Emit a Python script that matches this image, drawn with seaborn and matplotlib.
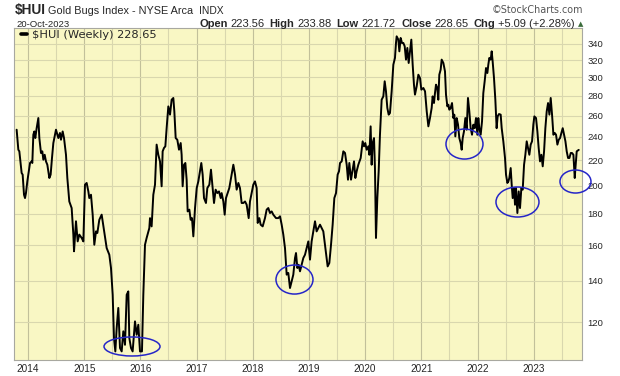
import pandas as pd
import seaborn as sns
import matplotlib.pyplot as plt
from matplotlib.patches import Ellipse
from matplotlib.ticker import FixedLocator, NullLocator, NullFormatter
from matplotlib.transforms import ScaledTranslation

# weekly closes, x in decimal years
dates_a = [2013.798, 2013.828, 2013.846, 2013.887, 2013.905, 2013.929, 2013.947, 2013.964, 2013.988, 2014.006,
           2014.036, 2014.065, 2014.077, 2014.095, 2014.113, 2014.130, 2014.154, 2014.184, 2014.202, 2014.231,
           2014.255, 2014.273, 2014.297, 2014.320, 2014.344, 2014.380, 2014.403, 2014.427, 2014.451, 2014.498,
           2014.540, 2014.569, 2014.587, 2014.617, 2014.641, 2014.676, 2014.700, 2014.735, 2014.777, 2014.807,
           2014.819, 2014.854, 2014.884, 2014.913, 2014.955, 2014.985, 2015.014, 2015.044, 2015.074, 2015.091,
           2015.121, 2015.151, 2015.180, 2015.210, 2015.234, 2015.269, 2015.311, 2015.329, 2015.358, 2015.400,
           2015.447, 2015.477, 2015.507, 2015.530, 2015.554, 2015.578, 2015.607, 2015.637, 2015.667, 2015.696,
           2015.726, 2015.756, 2015.785, 2015.803, 2015.833, 2015.862, 2015.904, 2015.934, 2015.963, 2015.993,
           2016.028, 2016.052, 2016.082, 2016.111, 2016.159]
close_a = [246.6, 228.8, 227.4, 209.7, 208.4, 193.3, 190.9, 194.5, 203.2, 208.4,
           217.7, 219.0, 217.7, 242.0, 245.0, 239.0, 248.0, 257.6, 239.0, 226.0,
           227.4, 220.4, 224.5, 219.0, 216.3, 205.8, 208.4, 221.8, 234.6, 246.6,
           239.0, 243.6, 237.5, 245.0, 239.0, 224.5, 205.8, 188.5, 183.9, 166.5,
           156.4, 175.0, 162.3, 166.5, 164.4, 162.3, 200.7, 202.0, 195.7, 190.9,
           193.3, 179.4, 160.3, 168.5, 167.5, 176.0, 179.4, 175.0, 168.5, 158.3,
           154.4, 146.9, 132.9, 113.0, 107.5, 117.3, 126.5, 108.9, 107.5, 115.9,
           110.2, 132.9, 134.6, 113.0, 108.9, 107.5, 120.3, 114.4, 118.8, 107.5,
           107.5, 132.9, 160.3, 164.4, 170.6]

dates_b = [2016.171, 2016.200, 2016.230, 2016.260, 2016.289, 2016.319, 2016.349, 2016.378, 2016.396, 2016.420,
           2016.444, 2016.467, 2016.497, 2016.527, 2016.556, 2016.586, 2016.604, 2016.628, 2016.657, 2016.687,
           2016.717, 2016.734, 2016.752, 2016.776, 2016.800, 2016.823, 2016.841, 2016.871, 2016.894, 2016.918,
           2016.942, 2016.972, 2017.002, 2017.031, 2017.061, 2017.084, 2017.108, 2017.132, 2017.167, 2017.191,
           2017.227, 2017.256, 2017.280, 2017.310, 2017.339, 2017.369, 2017.399, 2017.429, 2017.446, 2017.476,
           2017.500, 2017.523, 2017.553, 2017.582, 2017.624, 2017.654, 2017.684, 2017.713, 2017.743, 2017.772,
           2017.802, 2017.832, 2017.862, 2017.891, 2017.927, 2017.950, 2017.980, 2018.009, 2018.039, 2018.069,
           2018.087, 2018.116, 2018.140, 2018.176, 2018.217, 2018.247, 2018.276, 2018.306, 2018.336, 2018.365,
           2018.413, 2018.454, 2018.484, 2018.514, 2018.543, 2018.573, 2018.603, 2018.632]
close_b = [177.1, 171.7, 193.3, 200.7, 233.2, 224.5, 219.0, 199.5, 227.4, 230.3,
           231.7, 248.0, 269.1, 260.9, 275.9, 277.7, 264.1, 239.0, 237.5, 228.8,
           234.6, 224.5, 199.5, 216.3, 217.7, 204.5, 181.6, 182.8, 176.0, 177.1,
           165.4, 183.9, 198.2, 203.2, 211.0, 217.7, 208.4, 190.9, 187.4, 198.2,
           200.7, 212.3, 200.7, 187.4, 197.0, 194.5, 195.7, 190.9, 194.5, 188.5,
           179.4, 190.9, 194.5, 198.2, 208.4, 216.3, 208.4, 197.0, 202.0, 198.2,
           187.4, 187.4, 188.5, 186.2, 177.1, 188.5, 194.5, 200.7, 203.2, 198.2,
           173.9, 177.1, 172.8, 171.7, 177.1, 182.8, 183.9, 180.5, 181.6, 179.4,
           177.1, 177.1, 178.3, 172.8, 166.5, 158.3, 143.3, 144.2]

dates_c = [2018.662, 2018.692, 2018.721, 2018.751, 2018.769, 2018.793, 2018.816, 2018.840, 2018.870, 2018.899,
           2018.929, 2018.958, 2018.988, 2019.018, 2019.047, 2019.077, 2019.107, 2019.136, 2019.166, 2019.196,
           2019.225, 2019.255, 2019.285, 2019.315, 2019.332, 2019.362, 2019.392, 2019.421, 2019.451, 2019.481,
           2019.510, 2019.534, 2019.552, 2019.582, 2019.611, 2019.641, 2019.671, 2019.694, 2019.718, 2019.748,
           2019.777, 2019.801, 2019.825, 2019.848, 2019.878, 2019.920, 2019.955, 2019.979, 2020.002, 2020.026,
           2020.056, 2020.074, 2020.097, 2020.115, 2020.133, 2020.157, 2020.174, 2020.192, 2020.216, 2020.240,
           2020.263, 2020.293, 2020.323, 2020.347, 2020.370, 2020.394, 2020.418, 2020.441, 2020.471, 2020.501,
           2020.530, 2020.548, 2020.560, 2020.590, 2020.608, 2020.631, 2020.655, 2020.679, 2020.703, 2020.726,
           2020.750, 2020.774, 2020.797, 2020.821, 2020.845, 2020.868, 2020.886, 2020.916, 2020.946, 2020.975,
           2020.999, 2021.035, 2021.065, 2021.095, 2021.124]
close_c = [136.3, 139.7, 143.3, 152.5, 155.4, 146.9, 148.7, 145.1, 148.7, 152.5,
           154.4, 158.3, 162.3, 151.6, 162.3, 168.5, 175.0, 168.5, 170.6, 172.8,
           170.6, 168.5, 160.3, 152.5, 147.8, 149.7, 160.3, 172.8, 190.9, 194.5,
           208.4, 211.0, 217.7, 219.0, 227.4, 226.0, 216.3, 204.5, 217.7, 204.5,
           212.3, 219.0, 205.8, 211.0, 216.3, 221.8, 236.1, 231.7, 234.6, 228.8,
           231.7, 224.5, 249.7, 216.3, 234.6, 239.0, 213.6, 164.4, 190.9, 211.0,
           242.0, 275.9, 279.4, 295.6, 284.7, 267.5, 260.9, 262.5, 284.7, 314.6,
           322.6, 341.2, 349.8, 345.5, 330.7, 347.7, 341.2, 341.2, 337.0, 320.6,
           334.9, 316.6, 330.7, 345.5, 314.6, 291.9, 281.2, 290.1, 303.0, 299.3,
           286.5, 288.3, 284.7, 264.1, 249.7]

dates_d = [2021.153, 2021.183, 2021.200, 2021.224, 2021.242, 2021.260, 2021.283, 2021.301, 2021.319, 2021.343,
           2021.361, 2021.391, 2021.420, 2021.438, 2021.462, 2021.480, 2021.497, 2021.521, 2021.545, 2021.569,
           2021.586, 2021.604, 2021.628, 2021.652, 2021.675, 2021.699, 2021.717, 2021.735, 2021.758, 2021.782,
           2021.806, 2021.829, 2021.853, 2021.877, 2021.901, 2021.924, 2021.948, 2021.972, 2021.996, 2022.013,
           2022.031, 2022.055, 2022.079, 2022.102, 2022.126, 2022.150, 2022.174, 2022.191, 2022.209, 2022.233,
           2022.251, 2022.268, 2022.292, 2022.316, 2022.339, 2022.357, 2022.381, 2022.411, 2022.429, 2022.458,
           2022.488, 2022.506, 2022.530, 2022.548, 2022.565, 2022.589, 2022.607, 2022.625, 2022.649, 2022.666,
           2022.684, 2022.708, 2022.732, 2022.755, 2022.779, 2022.803, 2022.827, 2022.850, 2022.874, 2022.898,
           2022.921, 2022.945, 2022.969, 2022.992, 2023.010, 2023.040, 2023.064, 2023.087, 2023.111, 2023.135,
           2023.159, 2023.183, 2023.206, 2023.230, 2023.254, 2023.278, 2023.301, 2023.325, 2023.349, 2023.373,
           2023.396, 2023.420, 2023.444, 2023.468, 2023.491, 2023.515, 2023.539, 2023.563, 2023.586, 2023.610,
           2023.634, 2023.658, 2023.681, 2023.705, 2023.729, 2023.741, 2023.764, 2023.800]
close_d = [257.6, 267.5, 279.4, 272.5, 282.9, 291.9, 288.3, 275.9, 303.0, 308.8,
           320.6, 316.6, 306.8, 281.2, 269.1, 270.8, 265.8, 267.5, 272.5, 257.6,
           260.9, 240.5, 257.6, 251.3, 239.0, 234.6, 228.8, 239.0, 245.0, 257.6,
           246.6, 277.7, 264.1, 248.0, 242.0, 251.3, 248.0, 257.6, 242.0, 257.6,
           248.0, 242.0, 254.4, 282.9, 295.6, 310.7, 304.9, 314.6, 322.6, 320.6,
           330.7, 318.6, 299.3, 275.9, 248.0, 259.2, 261.5, 260.9, 248.0, 236.1,
           221.8, 208.4, 202.0, 203.2, 205.8, 213.6, 200.7, 190.9, 198.2, 186.2,
           198.2, 180.5, 195.7, 183.9, 198.2, 197.0, 216.3, 224.5, 236.1, 230.3,
           224.5, 233.2, 236.1, 251.3, 259.2, 257.6, 245.0, 230.3, 219.0, 224.5,
           215.0, 227.4, 248.0, 264.1, 272.5, 260.9, 277.7, 260.9, 242.0, 243.6,
           242.0, 233.2, 237.5, 239.0, 243.6, 248.0, 242.0, 236.1, 227.4, 221.8,
           221.8, 226.0, 226.0, 224.5, 205.8, 213.6, 227.4, 228.65]

year_ticks = [2014, 2015, 2016, 2017, 2018, 2019, 2020, 2021, 2022, 2023]
half_years = [2014.5, 2015.5, 2016.5, 2017.5, 2018.5, 2019.5, 2020.5, 2021.5, 2022.5, 2023.5]
price_ticks = [120, 140, 160, 180, 200, 220, 240, 260, 280, 300, 320, 340]

# the circled lows (centre date, centre value)
low_dates = [2015.851, 2018.742, 2021.767, 2022.710, 2023.742]
low_values = [109.5, 140.7, 233.7, 188.1, 203.1]
ring_px = [(56, 19), (37, 29), (37, 30), (43, 30), (31, 23)]

df = pd.DataFrame({
    "date": dates_a + dates_b + dates_c + dates_d,
    "close": close_a + close_b + close_c + close_d,
})

sns.set_style("white")
plt.rcParams["font.family"] = ["Liberation Sans", "DejaVu Sans"]

W, H = 620, 376
fig = plt.figure(figsize=(W / 100, H / 100), dpi=100)
ax = fig.add_axes([14 / W, 16 / H, 568 / W, 332 / H])
ax.set_facecolor("#f9f7c4")

sns.lineplot(data=df, x="date", y="close", color="black", linewidth=1.4, sort=False,
             label="\\$HUI (Weekly) 228.65", ax=ax)

ax.set_yscale("log")
ax.set_xlim(2013.751, 2023.858)
ax.set_ylim(104.1, 360.9)

ax.yaxis.set_major_locator(FixedLocator(price_ticks))
ax.yaxis.set_minor_locator(NullLocator())
ax.yaxis.set_minor_formatter(NullFormatter())
ax.set_yticklabels([str(p) for p in price_ticks])
ax.yaxis.tick_right()
ax.set_xticks(year_ticks)
ax.set_xticklabels([str(y) for y in year_ticks])
ax.xaxis.set_minor_locator(FixedLocator(half_years))
ax.tick_params(axis="y", which="both", length=0, pad=4, labelsize=6.8)
ax.tick_params(axis="x", which="both", length=0, pad=3, labelsize=7.2)
ax.set_xlabel("")
ax.set_ylabel("")

ax.set_axisbelow(True)
ax.grid(axis="x", which="major", color="#c2c09a", linewidth=0.8)
ax.grid(axis="x", which="minor", color="#d9d7ae", linewidth=0.8)
ax.grid(axis="y", which="major", color="#d9d7ae", linewidth=0.8)
for sp in ax.spines.values():
    sp.set_color("#a8a8a0")
    sp.set_linewidth(0.8)

leg = ax.legend(loc="upper left", bbox_to_anchor=(0.008, 1.0), frameon=False, handlelength=0.5,
                handletextpad=0.5, borderaxespad=0.0, borderpad=0.2,
                prop={"family": "DejaVu Sans", "size": 8.2})
for ln in leg.get_lines():
    ln.set_linewidth(2.6)

# blue rings around the lows, sized in pixels
for d, v, (w, h) in zip(low_dates, low_values, ring_px):
    ring = Ellipse((0, 0), w, h, transform=ScaledTranslation(d, v, ax.transData),
                   fill=False, edgecolor="#2626c8", linewidth=1.1)
    fig.add_artist(ring)


def px(x, y):
    return x / W, 1 - y / H


fig.text(*px(15, 14), "\\$HUI", fontsize=9.8, fontweight="bold", va="baseline")
fig.text(*px(48, 13.5), "Gold Bugs Index - NYSE Arca", fontsize=7.8, va="baseline")
fig.text(*px(199, 13.5), "INDX", fontsize=7.4, va="baseline")
fig.text(*px(583, 13), "\u00a9StockCharts.com", fontsize=6.9, family="DejaVu Sans", color="#555555",
         ha="right", va="baseline")
fig.text(*px(16, 27), "20-Oct-2023", fontsize=6.8, va="baseline")

stats = [("Open", "223.56"), ("High", "233.88"), ("Low", "221.72"),
         ("Close", "228.65"), ("Chg", "+5.09 (+2.28%)")]
renderer = fig.canvas.get_renderer()
x = 199
for key, val in stats:
    t = fig.text(*px(x, 27), key, fontsize=8, fontweight="bold", va="baseline")
    x += t.get_window_extent(renderer).width + 3
    t = fig.text(*px(x, 27), val, fontsize=8, va="baseline")
    x += t.get_window_extent(renderer).width + 5
fig.text(*px(x - 2, 26), "\u25b2", fontsize=5, family="DejaVu Sans", color="#3a6b3a", va="baseline")

plt.savefig("out.png", dpi=100)
